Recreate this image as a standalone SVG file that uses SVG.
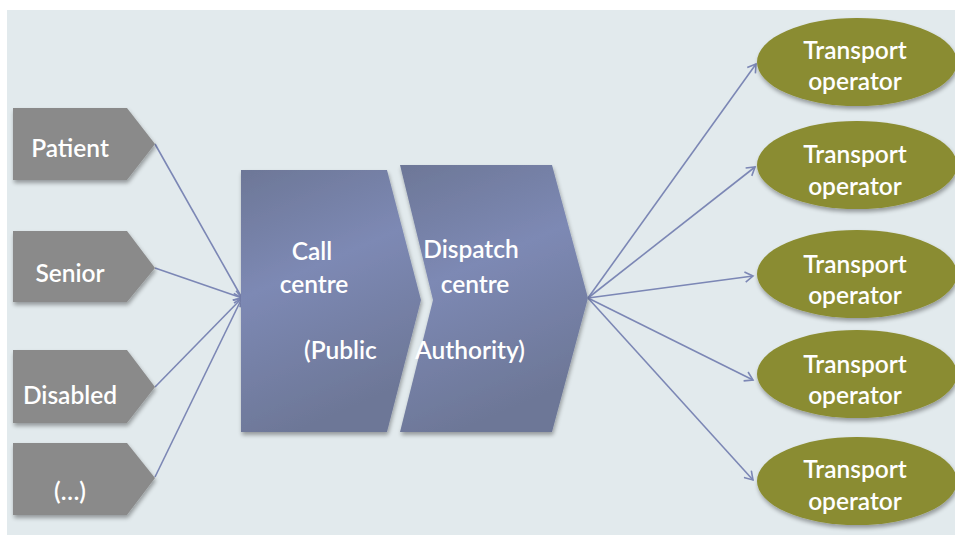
<svg xmlns="http://www.w3.org/2000/svg" width="955" height="535" viewBox="0 0 955 535">
<defs>
<style>
.lbl{font-family:Lato,"Open Sans","Liberation Sans",sans-serif;font-size:24.5px;fill:#ffffff;font-weight:600}
.gray{fill:#8a8a8a;filter:url(#sh)}
.oval{fill:#8a8c30;filter:url(#sh)}
.blue{fill:url(#bg);filter:url(#sh)}
.con{stroke:#7c87b5;stroke-width:1.6;fill:none;marker-end:url(#ah)}
</style>
<linearGradient id="bg" x1="0" y1="0" x2="0.3" y2="1">
<stop offset="0" stop-color="#6d7797"/>
<stop offset="0.45" stop-color="#7d89b4"/>
<stop offset="1" stop-color="#6d7797"/>
</linearGradient>
<filter id="sh" x="-10%" y="-10%" width="130%" height="130%">
<feGaussianBlur in="SourceAlpha" stdDeviation="2"/>
<feOffset dx="1" dy="3" result="o"/>
<feComponentTransfer><feFuncA type="linear" slope="0.35"/></feComponentTransfer>
<feMerge><feMergeNode/><feMergeNode in="SourceGraphic"/></feMerge>
</filter>
<marker id="ah" markerWidth="12" markerHeight="12" refX="10" refY="6" orient="auto" markerUnits="userSpaceOnUse">
<path d="M2,1 L10,6 L2,11" fill="none" stroke="#7c87b5" stroke-width="1.6"/>
</marker>
</defs>
<rect width="955" height="535" fill="#ffffff"/>
<rect x="7" y="10" width="948" height="525" fill="#e2eaed"/>

<g id="connectors">
<line class="con" x1="155" y1="144" x2="242" y2="298"/>
<line class="con" x1="155" y1="268" x2="242" y2="298"/>
<line class="con" x1="155" y1="387" x2="242" y2="298"/>
<line class="con" x1="155" y1="477" x2="242" y2="298"/>
<line class="con" x1="588" y1="298" x2="756" y2="64"/>
<line class="con" x1="588" y1="298" x2="755" y2="167"/>
<line class="con" x1="588" y1="298" x2="753" y2="276"/>
<line class="con" x1="588" y1="298" x2="753" y2="380"/>
<line class="con" x1="588" y1="298" x2="753" y2="480"/>
</g>

<g id="patient">
<path class="gray" d="M13,108 H127 L155,144 L127,180 H13 Z"/>
<text class="lbl" x="70" y="157" text-anchor="middle">Patient</text>
</g>
<g id="senior">
<path class="gray" d="M13,231 H127 L155,268 L127,302 H13 Z"/>
<text class="lbl" x="70" y="282" text-anchor="middle">Senior</text>
</g>
<g id="disabled">
<path class="gray" d="M13,350 H127 L155,387 L127,423 H13 Z"/>
<text class="lbl" x="70" y="404" text-anchor="middle">Disabled</text>
</g>
<g id="more">
<path class="gray" d="M13,443 H127 L155,478 L127,515 H13 Z"/>
<text class="lbl" x="70" y="500" text-anchor="middle">(…)</text>
</g>

<g id="call-centre">
<path class="blue" d="M241,170 H387 L421,300 L387,432 H241 Z"/>
<text class="lbl" x="312" y="260" text-anchor="middle">Call</text>
<text class="lbl" x="314" y="293" text-anchor="middle">centre</text>
<text class="lbl" x="304" y="359">(Public</text>
</g>
<g id="dispatch-centre">
<path class="blue" d="M400,165 H552 L588,298 L552,432 H400 L433,300 Z"/>
<text class="lbl" x="471" y="258" text-anchor="middle">Dispatch</text>
<text class="lbl" x="475" y="293" text-anchor="middle">centre</text>
<text class="lbl" x="415" y="359">Authority)</text>
</g>

<g id="op1">
<ellipse class="oval" cx="857" cy="62" rx="100" ry="44"/>
<text class="lbl" x="855" y="59" text-anchor="middle">Transport</text>
<text class="lbl" x="855" y="90" text-anchor="middle">operator</text>
</g>
<g id="op2">
<ellipse class="oval" cx="857" cy="165" rx="100" ry="44"/>
<text class="lbl" x="855" y="163" text-anchor="middle">Transport</text>
<text class="lbl" x="855" y="195" text-anchor="middle">operator</text>
</g>
<g id="op3">
<ellipse class="oval" cx="857" cy="274" rx="100" ry="44"/>
<text class="lbl" x="855" y="273" text-anchor="middle">Transport</text>
<text class="lbl" x="855" y="304" text-anchor="middle">operator</text>
</g>
<g id="op4">
<ellipse class="oval" cx="857" cy="374" rx="100" ry="44"/>
<text class="lbl" x="855" y="373" text-anchor="middle">Transport</text>
<text class="lbl" x="855" y="404" text-anchor="middle">operator</text>
</g>
<g id="op5">
<ellipse class="oval" cx="857" cy="481" rx="100" ry="44"/>
<text class="lbl" x="855" y="478" text-anchor="middle">Transport</text>
<text class="lbl" x="855" y="510" text-anchor="middle">operator</text>
</g>
</svg>
